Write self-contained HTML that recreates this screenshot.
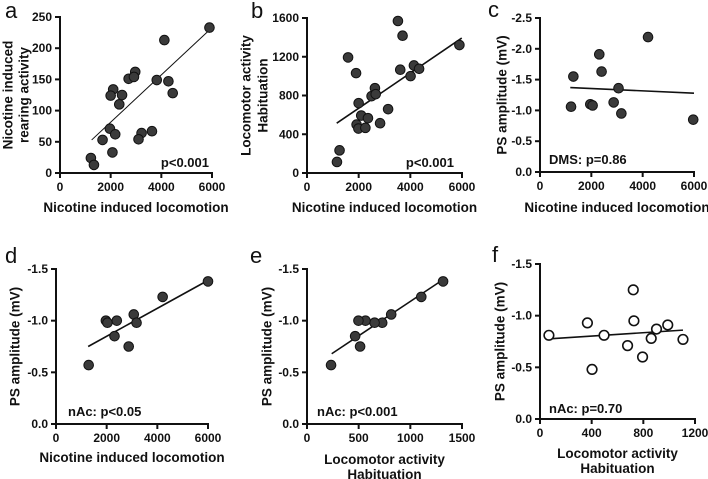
<!DOCTYPE html>
<html><head><meta charset="utf-8">
<style>
body{margin:0;background:#fff;}
svg{display:block;font-family:"Liberation Sans",Arial,sans-serif;}
.tk{font-size:12px;font-weight:bold;fill:#111;}
.ti{font-size:13.5px;font-weight:bold;fill:#111;}
.pl{font-size:22px;fill:#111;}
.pv{font-size:13px;font-weight:bold;fill:#111;}
</style></head>
<body>
<svg id="fig" width="708" height="479" viewBox="0 0 708 479"></svg>
<script>
// Panel a
const aX=[5900,4120,2710,2970,2920,3820,4280,4450,2100,2000,2450,2340,1970,2180,1680,2070,1220,1340,3220,3100,3630];
const aY=[233,213,151,162,154,149,147,128,134,124,125,110,71,62,53,33,24,13,64,54,67];
const aLine=[[1250,53],[5920,230]];
const aXTicks=[0,2000,4000,6000];
const aYTicks=[0,50,100,150,200,250];
// Panel b
const bX=[3520,3700,5900,1590,1900,3610,4140,4340,4010,2630,2000,2500,2660,3140,2100,2360,1920,1990,2260,2830,1260,1160];
const bY=[1569,1417,1321,1193,1031,1066,1110,1076,1000,876,721,793,814,659,593,566,500,459,466,514,234,114];
const bLine=[[1150,514],[5990,1393]];
const bXTicks=[0,2000,4000,6000];
const bYTicks=[0,400,800,1200,1600];
// Panel c
const cX=[4210,2310,2400,1300,3060,1210,1960,2050,2870,3170,5970];
const cY=[-2.19,-1.91,-1.63,-1.55,-1.36,-1.06,-1.10,-1.08,-1.13,-0.95,-0.85];
const cLine=[[1180,-1.37],[6000,-1.28]];
const cXTicks=[0,2000,4000,6000];
const cYTicks=[0,-0.5,-1.0,-1.5,-2.0,-2.5];
// Panel d
const dX=[6000,4210,3070,3180,1970,2030,2400,2310,2870,1290];
const dY=[-1.38,-1.23,-1.06,-0.98,-1.0,-0.98,-1.0,-0.85,-0.75,-0.57];
const dLine=[[1270,-0.75],[6000,-1.39]];
const dXTicks=[0,2000,4000,6000];
const dYTicks=[0,-0.5,-1.0,-1.5];
// Panel e
const eX=[1317,1106,815,728,654,566,498,466,514,233];
const eY=[-1.38,-1.23,-1.06,-0.98,-0.98,-1.0,-1.0,-0.85,-0.75,-0.57];
const eLine=[[239,-0.68],[1306,-1.39]];
const eXTicks=[0,500,1000,1500];
const eYTicks=[0,-0.5,-1.0,-1.5];
// Panel f
const fX=[69,367,403,496,727,722,678,794,861,902,989,1107];
const fY=[-0.81,-0.93,-0.48,-0.81,-0.95,-1.25,-0.71,-0.60,-0.78,-0.87,-0.91,-0.77];
const fLine=[[60,-0.775],[1107,-0.86]];
const fXTicks=[0,400,800,1200];
const fYTicks=[0,-0.5,-1.0,-1.5];

const NS="http://www.w3.org/2000/svg";
const svg=document.getElementById('fig');
function mk(tag,attrs,parent,text){const e=document.createElementNS(NS,tag);for(const k in attrs)e.setAttribute(k,attrs[k]);if(text!==undefined)e.textContent=text;(parent||svg).appendChild(e);return e;}
function fmt(v,dec){return dec?v.toFixed(1):String(v);}

function panel(p){
  const g=mk('g',{});
  
  
  const sx=v=>p.x0+(v-p.xmin)/(p.xmax-p.xmin)*(p.x1-p.x0);
  const sy=v=>p.y0+(v-p.ymin)/(p.ymax-p.ymin)*(p.y1-p.y0);
  const ya=mk('line',{x1:p.x0,y1:p.y1-1,x2:p.x0,y2:p.y0+1,stroke:'#111','stroke-width':2},g);
  
  const xa=mk('line',{x1:p.x0-1,y1:p.y0,x2:p.x1+1,y2:p.y0,stroke:'#111','stroke-width':2},g);
  
  p.yt.forEach(v=>{const y=sy(v);
    mk('line',{x1:p.x0-5,y1:y,x2:p.x0,y2:y,stroke:'#111','stroke-width':2},g);
    const t=mk('text',{x:p.x0-8,y:y+4,'text-anchor':'end',class:'tk'},g,fmt(v,p.dec));
    });
  p.xt.forEach(v=>{const x=sx(v);
    mk('line',{x1:x,y1:p.y0,x2:x,y2:p.y0+5,stroke:'#111','stroke-width':2},g);
    const t=mk('text',{x:x,y:p.y0+18,'text-anchor':'middle',class:'tk'},g,String(v));
    });
  const rl=mk('line',{x1:sx(p.line[0][0]),y1:sy(p.line[0][1]),x2:sx(p.line[1][0]),y2:sy(p.line[1][1]),stroke:'#111','stroke-width':p.lw||1.6},g);
  
  p.xs.forEach((v,i)=>{
    const c=mk('circle',{cx:sx(v),cy:sy(p.ys[i]),r:4.8,fill:p.open?'#fff':'#3a3a3a',stroke:'#111','stroke-width':p.open?1.6:1},g);
    
    
  });
  p.xtitle.forEach((s,i)=>{const t=mk('text',{x:(p.x0+p.x1)/2,y:p.xty+i*15,'text-anchor':'middle',class:'ti'},g,s);
    });
  p.ytitle.forEach((s,i)=>{const cx=p.ytx[i];const cy=(p.y0+p.y1)/2;
    const t=mk('text',{x:cx,y:cy,'text-anchor':'middle','dominant-baseline':'central',transform:`rotate(-90 ${cx} ${cy})`,class:'ti'},g,s);
    });
  const L=mk('text',{x:p.lx,y:p.ly,class:'pl'},g,p.id);
  
  const P=mk('text',{x:p.px,y:p.py,'text-anchor':p.pa,class:'pv'},g,p.ptext);
  
}

panel({id:'a',xs:aX,ys:aY,line:aLine,xt:aXTicks,yt:aYTicks,xmin:0,xmax:6000,ymin:0,ymax:250,x0:60,x1:212,y0:173,y1:17,
  xtitle:['Nicotine induced locomotion'],xty:212,ytitle:['Nicotine induced','rearing activity'],ytx:[8,24],
  lx:5,ly:18,ptext:'p<0.001',px:209,py:167,pa:'end',lw:1});
panel({id:'b',xs:bX,ys:bY,line:bLine,xt:bXTicks,yt:bYTicks,xmin:0,xmax:6000,ymin:0,ymax:1600,x0:307,x1:462,y0:173,y1:18,
  xtitle:['Nicotine induced locomotion'],xty:212,ytitle:['Locomotor activity','Habituation'],ytx:[246,263],
  lx:251,ly:18,ptext:'p<0.001',px:454,py:167,pa:'end'});
panel({id:'c',xs:cX,ys:cY,line:cLine,xt:cXTicks,yt:cYTicks,xmin:0,xmax:6000,ymin:0,ymax:-2.5,x0:540,x1:694,y0:172,y1:18,dec:true,
  xtitle:['Nicotine induced locomotion'],xty:212,ytitle:['PS amplitude (mV)'],ytx:[502],
  lx:488,ly:17,ptext:'DMS: p=0.86',px:549,py:164,pa:'start'});
panel({id:'d',xs:dX,ys:dY,line:dLine,xt:dXTicks,yt:dYTicks,xmin:0,xmax:6000,ymin:0,ymax:-1.5,x0:56,x1:208,y0:424,y1:269,dec:true,
  xtitle:['Nicotine induced locomotion'],xty:462,ytitle:['PS amplitude (mV)'],ytx:[15],
  lx:5,ly:263,ptext:'nAc: p<0.05',px:68,py:416,pa:'start'});
panel({id:'e',xs:eX,ys:eY,line:eLine,xt:eXTicks,yt:eYTicks,xmin:0,xmax:1500,ymin:0,ymax:-1.5,x0:307,x1:462,y0:424,y1:269,dec:true,
  xtitle:['Locomotor activity','Habituation'],xty:464,ytitle:['PS amplitude (mV)'],ytx:[267],
  lx:250,ly:263,ptext:'nAc: p<0.001',px:317,py:416,pa:'start'});
panel({id:'f',xs:fX,ys:fY,line:fLine,xt:fXTicks,yt:fYTicks,xmin:0,xmax:1200,ymin:0,ymax:-1.5,x0:540,x1:695,y0:419,y1:264,dec:true,open:true,
  xtitle:['Locomotor activity','Habituation'],xty:458,ytitle:['PS amplitude (mV)'],ytx:[500],
  lx:492,ly:262,ptext:'nAc: p=0.70',px:549,py:413,pa:'start'});
</script>
</body></html>
